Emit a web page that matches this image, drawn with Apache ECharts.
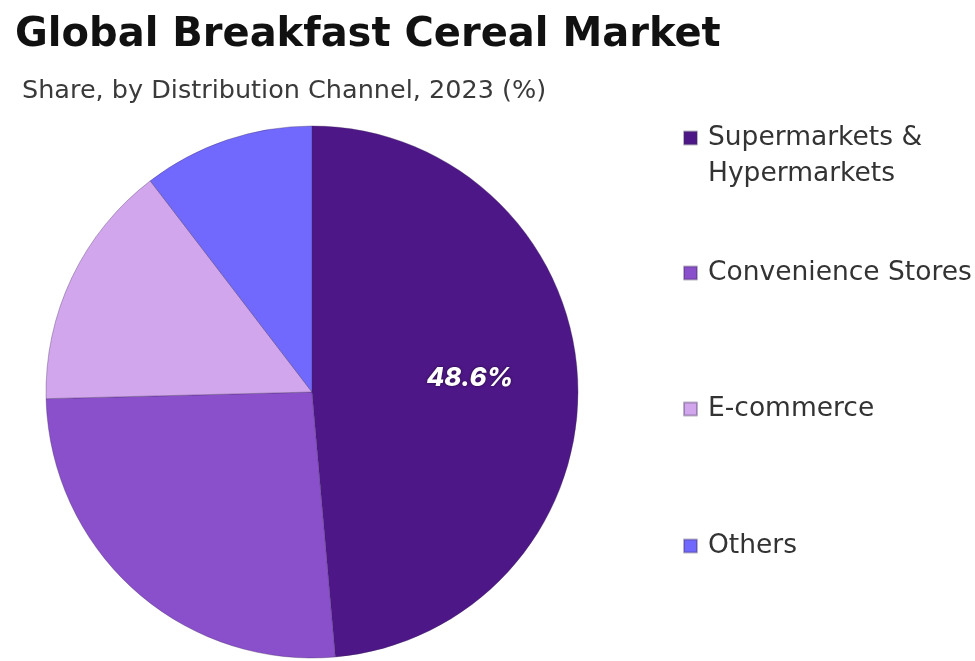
<!DOCTYPE html>
<html>
<head>
<meta charset="utf-8">
<script src="https://cdn.jsdelivr.net/npm/echarts@6/dist/echarts.min.js"></script>
<style>
  html, body { margin: 0; padding: 0; background: #ffffff; }
  #chart { width: 975px; height: 661px; }
</style>
</head>
<body>
<div id="chart"></div>
<script>
// Distribution channel shares, 2023 (%)
const channels = ['Supermarkets & Hypermarkets', 'Convenience Stores', 'E-commerce', 'Others'];
const shares = [48.6, 26.0, 15.0, 10.4];
const colors = ['#4e1787', '#8a4fcb', '#d1a6ec', '#7169fd'];
// Legend wording (first entry wraps onto two lines)
const legendLabels = ['Supermarkets &\nHypermarkets', 'Convenience Stores', 'E-commerce', 'Others'];
// Only the leading channel carries a value label
const labelled = [true, false, false, false];

const legendTops = [84, 255, 391, 528];
const bodyFont = '"DejaVu Sans", "Open Sans", sans-serif';

const chart = echarts.init(document.getElementById('chart'));

const legends = channels.map((name, i) => ({
  orient: 'vertical',
  left: 683,
  top: legendTops[i],
  padding: 0,
  data: [name],
  icon: 'rect',
  itemWidth: 13,
  itemHeight: 13,
  itemGap: 0,
  selectedMode: false,
  formatter: () => (i === 0 ? '\n' : '') + legendLabels[i],
  textStyle: {
    fontFamily: bodyFont,
    fontSize: 26.5,
    color: '#333333',
    lineHeight: 36,
    padding: [0, 0, 0, 6]
  }
}));

chart.setOption({
  animation: false,
  title: [
    {
      text: 'Global Breakfast Cereal Market',
      left: 10,
      top: 11,
      textStyle: {
        fontFamily: '"DejaVu Sans", sans-serif',
        fontWeight: 'bold',
        fontSize: 40,
        color: '#111111'
      }
    },
    {
      text: 'Share, by Distribution Channel, 2023 (%)',
      left: 17,
      top: 73,
      textStyle: {
        fontFamily: bodyFont,
        fontWeight: 'normal',
        fontSize: 25.5,
        color: '#3a3a3a'
      }
    }
  ],
  legend: legends,
  series: [
    {
      type: 'pie',
      center: [312, 392],
      radius: 266,
      startAngle: 90,
      clockwise: true,
      silent: true,
      itemStyle: {
        borderColor: 'rgba(60, 40, 90, 0.35)',
        borderWidth: 1
      },
      label: { show: false },
      labelLine: { show: false },
      data: channels.map((name, i) => ({
        name,
        value: shares[i],
        itemStyle: { color: colors[i] },
        label: labelled[i] ? {
          show: true,
          position: 'inside',
          formatter: (p) => p.value.toFixed(1) + '%',
          offset: [22, -8],
          color: '#ffffff',
          fontFamily: 'Inter, Roboto, sans-serif',
          fontWeight: 800,
          fontStyle: 'italic',
          fontSize: 26,
          textShadowColor: 'rgba(0,0,0,0.6)',
          textShadowBlur: 3
        } : { show: false }
      }))
    }
  ]
});
</script>
</body>
</html>
